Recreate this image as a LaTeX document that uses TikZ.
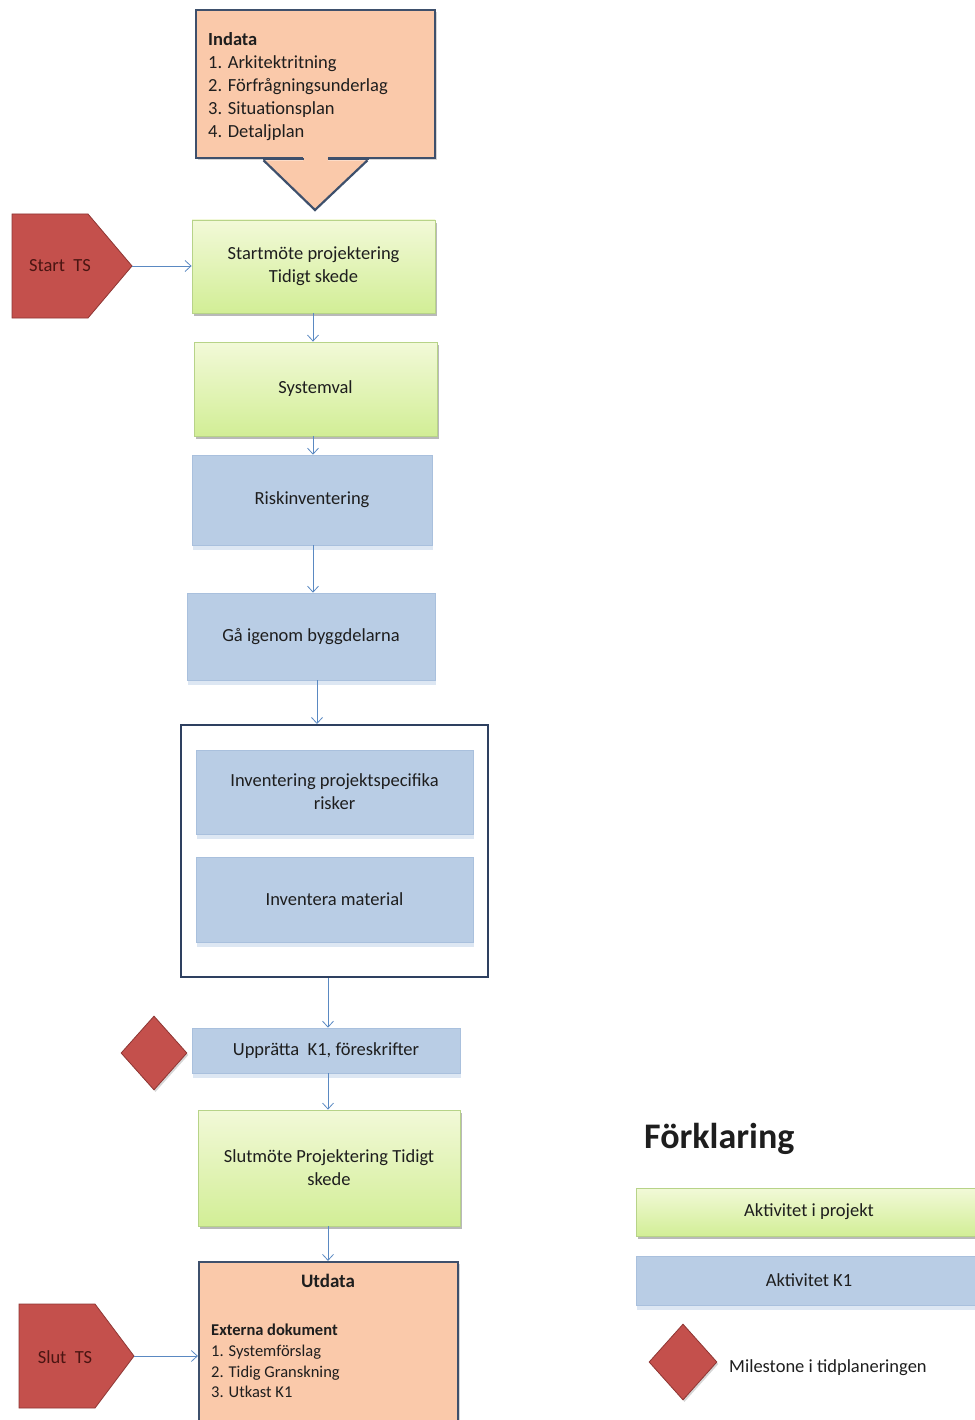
\documentclass[tikz,border=0pt]{standalone}
\usepackage{fontspec}
\setmainfont{Carlito}
\usetikzlibrary{arrows.meta,shadows,shapes.geometric}

\definecolor{peach}{HTML}{FAC9AA}
\definecolor{slate}{HTML}{3E506C}
\definecolor{grtop}{HTML}{F2F9D8}
\definecolor{grbot}{HTML}{D2EE96}
\definecolor{grline}{HTML}{B7D388}
\definecolor{bluefill}{HTML}{B9CDE5}
\definecolor{blueline}{HTML}{A9C0DD}
\definecolor{blueshade}{HTML}{DDE7F3}
\definecolor{milered}{HTML}{C4504C}
\definecolor{mileline}{HTML}{8E3633}
\definecolor{miletext}{HTML}{4A1512}
\definecolor{arrowblue}{HTML}{5A89C2}
\definecolor{ink}{HTML}{1E1E1E}
\definecolor{framecol}{HTML}{2E4060}

\begin{document}
\begin{tikzpicture}[x=1pt,y=-1pt,
  txt/.style={font=\fontsize{18.5}{23}\selectfont, text=ink, align=center},
  smalltxt/.style={font=\fontsize{16.5}{20.7}\selectfont, text=ink, align=left},
  greenbox/.style={txt, draw=grline, line width=0.8pt, top color=grtop, bottom color=grbot,
    inner sep=0pt, drop shadow={shadow xshift=2pt, shadow yshift=-3pt, fill=black!55, opacity=0.5}},
  bluebox/.style={txt, draw=blueline, line width=0.6pt, fill=bluefill, inner sep=0pt,
    drop shadow={shadow xshift=1pt, shadow yshift=-5pt, fill=blueshade, opacity=1}},
  peachbox/.style={draw=slate, line width=2.2pt, fill=peach, inner sep=0pt,
    drop shadow={shadow xshift=2pt, shadow yshift=-2pt, fill=black!40, opacity=0.4}},
  redshape/.style={draw=mileline, line width=0.8pt, fill=milered},
  milestone/.style={diamond, redshape, inner sep=0pt,
    drop shadow={shadow xshift=1.5pt, shadow yshift=-2pt, fill=black!40, opacity=0.4}},
  redtxt/.style={font=\fontsize{18.5}{23}\selectfont, text=miletext},
  arr/.style={draw=arrowblue, line width=0.8pt, -{Straight Barb[length=6pt,width=11pt,line width=0.8pt]}}
]
\useasboundingbox (0,0) rectangle (974,1420);

% --- Indata callout ---
\node[peachbox, minimum width=239pt, minimum height=148pt] (indata) at (315.5,84) {};
% open the bottom edge where the pointer joins
\fill[peach] ([xshift=-13pt,yshift=2pt]indata.south) rectangle ([xshift=12pt,yshift=-1.5pt]indata.south);
\coordinate (indatatip) at (315,210);
\filldraw[draw=slate, fill=peach, line width=2.2pt, line join=miter]
  ([xshift=-52pt,yshift=-1.2pt]indata.south) -- (indatatip) -- ([xshift=52pt,yshift=-1.2pt]indata.south);
\draw[slate, line width=2.2pt] ([xshift=-53pt]indata.south) -- ([xshift=-12pt]indata.south)
  ([xshift=12pt]indata.south) -- ([xshift=53pt]indata.south);
\node[txt, align=left, anchor=north west, inner sep=0pt] (indatatext) at (208,32)
  {\textbf{Indata}\\1. Arkitektritning\\2. Förfrågningsunderlag\\3. Situationsplan\\4. Detaljplan};

% --- Start TS ---
\draw[redshape] (12,214) -- (88,214) -- (132,266) -- (88,318) -- (12,318) -- cycle;
\node[redtxt] (start) at (60,266) {Start\ \ TS};
\coordinate (starttip) at (132,266);

% --- Main flow ---
\node[greenbox, minimum width=243pt, minimum height=93pt] (startm) at (313.5,266.5)
  {Startmöte projektering\\Tidigt skede};
\node[greenbox, minimum width=243pt, minimum height=94pt] (sysval) at (315.5,389) {Systemval};
\node[bluebox, minimum width=240pt, minimum height=90pt] (risk) at (312,500) {Riskinventering};
\node[bluebox, minimum width=248pt, minimum height=87pt] (gaa) at (311,636.5) {Gå igenom byggdelarna};

\node[draw=framecol, line width=2pt, minimum width=307pt, minimum height=252pt, inner sep=0pt] (frame) at (334.5,851) {};
\node[bluebox, minimum width=277pt, minimum height=84pt] (invproj) at (334.5,792)
  {Inventering projektspecifika\\risker};
\node[bluebox, minimum width=277pt, minimum height=85pt] (invmat) at (334.5,899.5) {Inventera material};

\node[bluebox, minimum width=268pt, minimum height=45pt] (upp) at (326,1050.5) {Upprätta\ \ K1, föreskrifter};
\node[milestone, minimum width=66pt, minimum height=74pt] (mile) at (154,1053) {};

\node[greenbox, minimum width=262pt, minimum height=116pt] (slut) at (329,1168)
  {Slutmöte Projektering Tidigt\\skede};

% --- Utdata ---
\node[peachbox, minimum width=259pt, minimum height=170pt] (utdata) at (328.5,1347) {};
\node[txt, font=\fontsize{19}{23}\selectfont\bfseries] (utdatatitle) at (328,1281) {Utdata};
\node[smalltxt, anchor=north west, inner sep=0pt] (utdatatext) at (211,1324)
  {\textbf{Externa dokument}\\1. Systemförslag\\2. Tidig Granskning\\3. Utkast K1};

% --- Slut TS ---
\draw[redshape] (19,1304) -- (95,1304) -- (134,1356) -- (95,1408) -- (19,1408) -- cycle;
\node[redtxt] (slutts) at (65,1357) {Slut\ \ TS};
\coordinate (sluttip) at (134,1356);

% --- Connectors ---
\draw[arr] (starttip) -- (starttip -| startm.west);
\draw[arr] ([xshift=-0.5pt]startm.south) -- ([xshift=-0.5pt]startm.south |- sysval.north);
\draw[arr] ([xshift=-2.5pt]sysval.south) -- ([xshift=-2.5pt]sysval.south |- risk.north);
\draw[arr] ([xshift=1pt]risk.south) -- ([xshift=1pt]risk.south |- gaa.north);
\draw[arr] ([xshift=6pt]gaa.south) -- ([xshift=6pt]gaa.south |- frame.north);
\draw[arr] ([xshift=-6.5pt]frame.south) -- ([xshift=-6.5pt]frame.south |- upp.north);
\draw[arr] ([xshift=2pt]upp.south) -- ([xshift=2pt]upp.south |- slut.north);
\draw[arr] ([xshift=-1pt]slut.south) -- ([xshift=-1pt]slut.south |- utdata.north);
\draw[arr] (sluttip) -- (sluttip -| utdata.west);

% --- Legend ---
\node[font=\fontsize{36}{40}\selectfont\bfseries, text=ink, anchor=base west, inner sep=0pt] (legtitle) at (644,1148) {Förklaring};
\node[greenbox, minimum width=346pt, minimum height=48pt] (leggreen) at (809,1212) {Aktivitet i projekt};
\node[bluebox, minimum width=346pt, minimum height=49pt] (legblue) at (809,1280.5) {Aktivitet K1};
\node[milestone, minimum width=68pt, minimum height=76pt] (legmile) at (683,1362) {};
\node[txt, anchor=west, inner sep=0pt] (legmiletext) at (729,1368) {Milestone i tidplaneringen};
\end{tikzpicture}
\end{document}
